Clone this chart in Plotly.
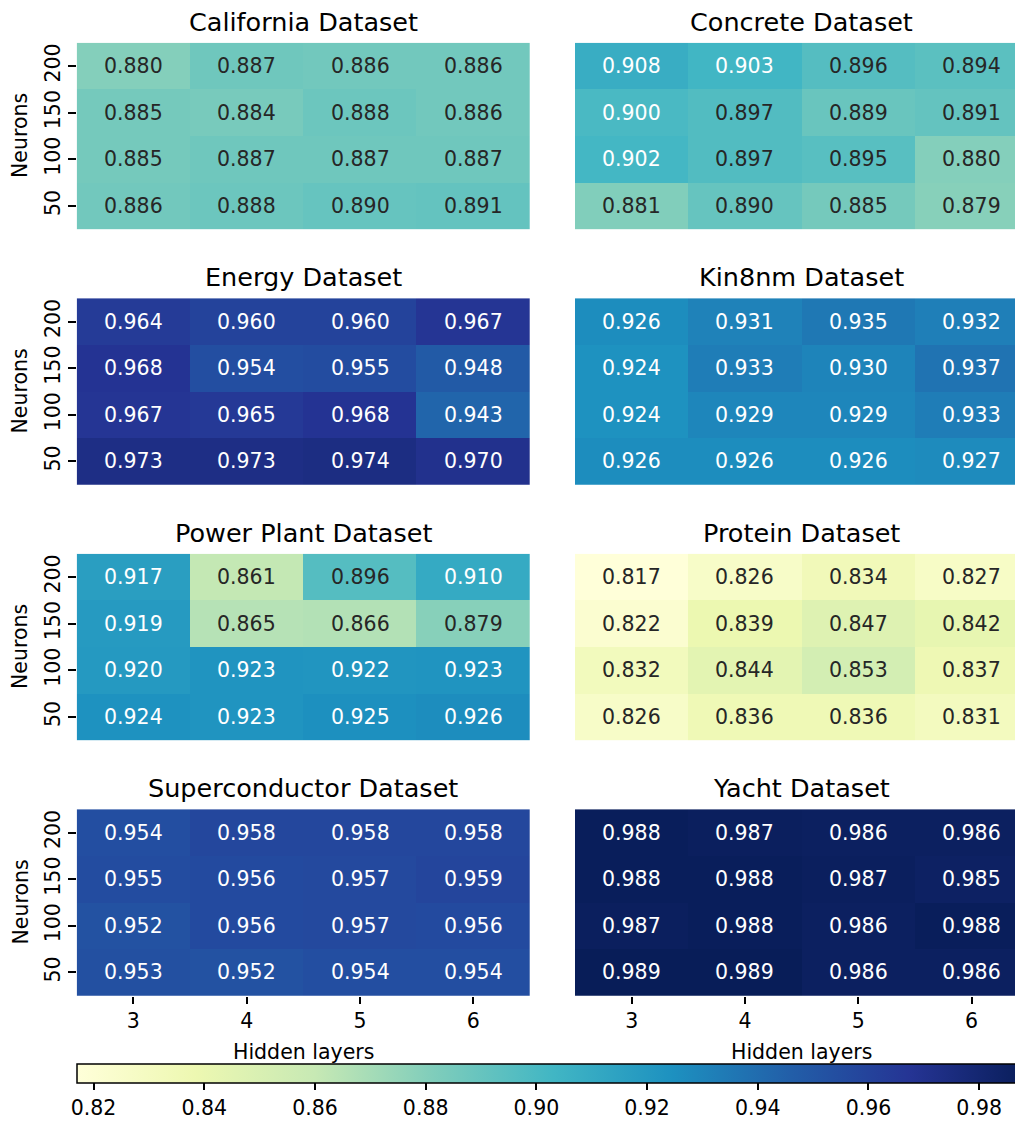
import plotly.graph_objects as go

# ---- data -------------------------------------------------------------
hidden_layers = [3, 4, 5, 6]
neurons = ["200", "150", "100", "50"]          # rows, top to bottom

titles = ["California Dataset", "Concrete Dataset",
          "Energy Dataset", "Kin8nm Dataset",
          "Power Plant Dataset", "Protein Dataset",
          "Superconductor Dataset", "Yacht Dataset"]

california = [[0.880, 0.887, 0.886, 0.886],
              [0.885, 0.884, 0.888, 0.886],
              [0.885, 0.887, 0.887, 0.887],
              [0.886, 0.888, 0.890, 0.891]]
concrete = [[0.908, 0.903, 0.896, 0.894],
            [0.900, 0.897, 0.889, 0.891],
            [0.902, 0.897, 0.895, 0.880],
            [0.881, 0.890, 0.885, 0.879]]
energy = [[0.964, 0.960, 0.960, 0.967],
          [0.968, 0.954, 0.955, 0.948],
          [0.967, 0.965, 0.968, 0.943],
          [0.973, 0.973, 0.974, 0.970]]
kin8nm = [[0.926, 0.931, 0.935, 0.932],
          [0.924, 0.933, 0.930, 0.937],
          [0.924, 0.929, 0.929, 0.933],
          [0.926, 0.926, 0.926, 0.927]]
power_plant = [[0.917, 0.861, 0.896, 0.910],
               [0.919, 0.865, 0.866, 0.879],
               [0.920, 0.923, 0.922, 0.923],
               [0.924, 0.923, 0.925, 0.926]]
protein = [[0.817, 0.826, 0.834, 0.827],
           [0.822, 0.839, 0.847, 0.842],
           [0.832, 0.844, 0.853, 0.837],
           [0.826, 0.836, 0.836, 0.831]]
superconductor = [[0.954, 0.958, 0.958, 0.958],
                  [0.955, 0.956, 0.957, 0.959],
                  [0.952, 0.956, 0.957, 0.956],
                  [0.953, 0.952, 0.954, 0.954]]
yacht = [[0.988, 0.987, 0.986, 0.986],
         [0.988, 0.988, 0.987, 0.985],
         [0.987, 0.988, 0.986, 0.988],
         [0.989, 0.989, 0.986, 0.986]]

datasets = [california, concrete, energy, kin8nm,
            power_plant, protein, superconductor, yacht]

colorbar_ticks = [0.82, 0.84, 0.86, 0.88, 0.90, 0.92, 0.94, 0.96, 0.98]

# ---- style / geometry ---------------------------------------------------
W, H = 1015, 1123
FONT = "DejaVu Sans"
VMIN = min(min(min(r) for r in d) for d in datasets)
VMAX = max(max(max(r) for r in d) for d in datasets)

YLGNBU = ["#ffffd9", "#edf8b1", "#c7e9b4", "#7fcdbb", "#41b6c4",
          "#1d91c0", "#225ea8", "#253494", "#081d58"]
colorscale = [[i / (len(YLGNBU) - 1), c] for i, c in enumerate(YLGNBU)]


def hex_rgb(h):
    return [int(h[i:i + 2], 16) / 255 for i in (1, 3, 5)]


def cmap(v):
    t = (v - VMIN) / (VMAX - VMIN)
    t = min(max(t, 0.0), 1.0)
    pos = t * (len(YLGNBU) - 1)
    i = min(int(pos), len(YLGNBU) - 2)
    f = pos - i
    a, b = hex_rgb(YLGNBU[i]), hex_rgb(YLGNBU[i + 1])
    return [a[k] + (b[k] - a[k]) * f for k in range(3)]


def text_color(v):
    # dark text on light cells, white text on dark cells
    rgb = cmap(v)
    lin = [c / 12.92 if c <= 0.03928 else ((c + 0.055) / 1.055) ** 2.4 for c in rgb]
    lum = 0.2126 * lin[0] + 0.7152 * lin[1] + 0.0722 * lin[2]
    return "#262626" if lum > 0.408 else "white"


col_left = [76.7, 575.0]         # pixel left edge of each heatmap column
hm_w = 453.3                     # full heatmap width in px
cell_w = hm_w / 4
row_top = [42.7, 298.2, 553.7, 809.2]
hm_h = 186.6
row_idx = list(range(len(neurons)))


def px_x(x):
    return x / W


def px_y(y):
    return 1 - y / H


fig = go.Figure()
annotations = []

for k, (name, z) in enumerate(zip(titles, datasets)):
    r, c = divmod(k, 2)
    ax = k + 1
    xn = "x" if ax == 1 else f"x{ax}"
    yn = "y" if ax == 1 else f"y{ax}"
    left = col_left[c]
    right = min(left + hm_w, W)
    top = row_top[r]
    bottom = top + hm_h
    x_hi = 2.5 + (right - left) / cell_w

    fig.add_trace(go.Heatmap(
        z=z, x=hidden_layers, y=row_idx, coloraxis="coloraxis",
        xaxis=xn, yaxis=yn, hoverinfo="skip"))

    fig.update_layout({
        f"xaxis{'' if ax == 1 else ax}": dict(
            domain=[px_x(left), px_x(right)], anchor=yn,
            range=[2.5, x_hi], tickvals=hidden_layers,
            showticklabels=(r == 3), ticks="outside" if r == 3 else "",
            ticklen=7, tickwidth=1.6, tickcolor="#000000",
            showgrid=False, zeroline=False, showline=False,
            tickfont=dict(family=FONT, size=20.5, color="black")),
        f"yaxis{'' if ax == 1 else ax}": dict(
            domain=[px_y(bottom), px_y(top)], anchor=xn,
            range=[len(neurons) - 0.5, -0.5],
            tickvals=row_idx, ticktext=neurons,
            showticklabels=(c == 0), ticks="outside" if c == 0 else "",
            ticklen=8, tickwidth=1.6, tickcolor="#000000", tickangle=-90,
            showgrid=False, zeroline=False, showline=False,
            tickfont=dict(family=FONT, size=20.5, color="black")),
    })

    # cell values
    for i, row in enumerate(z):
        for j, v in enumerate(row):
            annotations.append(dict(
                x=hidden_layers[j], y=row_idx[i], xref=xn, yref=yn,
                text=f"{v:.3f}", showarrow=False,
                font=dict(family=FONT, size=20.5, color=text_color(v))))

    # panel title, centred on the full heatmap width
    annotations.append(dict(
        x=px_x(left + hm_w / 2), y=px_y(top - 21), xref="paper", yref="paper",
        text=name, showarrow=False, xanchor="center", yanchor="middle",
        font=dict(family=FONT, size=25.5, color="black")))

    if c == 0:
        annotations.append(dict(
            x=px_x(20), y=px_y(top + hm_h / 2), xref="paper", yref="paper",
            text="Neurons", showarrow=False, textangle=-90,
            xanchor="center", yanchor="middle",
            font=dict(family=FONT, size=20.5, color="black")))
    if r == 3:
        annotations.append(dict(
            x=px_x(left + hm_w / 2), y=px_y(1052), xref="paper", yref="paper",
            text="Hidden layers", showarrow=False,
            xanchor="center", yanchor="middle",
            font=dict(family=FONT, size=20.5, color="black")))

cb_left, cb_top, cb_bottom = 77.0, 1064.3, 1083.3
cb_len = (VMAX - VMIN) / 0.02 * 110.7

fig.update_layout(
    width=W, height=H,
    margin=dict(l=0, r=0, t=0, b=0, pad=0, autoexpand=False),
    paper_bgcolor="white", plot_bgcolor="white",
    font=dict(family=FONT, color="black"),
    coloraxis=dict(
        cmin=VMIN, cmax=VMAX, colorscale=colorscale,
        colorbar=dict(
            orientation="h", x=px_x(cb_left), xanchor="left",
            y=px_y(cb_top), yanchor="top",
            lenmode="pixels", len=cb_len,
            thicknessmode="pixels", thickness=cb_bottom - cb_top,
            xpad=0, ypad=0,
            outlinecolor="black", outlinewidth=1.5,
            tickvals=colorbar_ticks, ticktext=[f"{t:.2f}" for t in colorbar_ticks],
            ticks="outside", ticklen=7, tickwidth=1.6, tickcolor="black",
            tickfont=dict(family=FONT, size=20.5, color="black"))),
    annotations=annotations,
)

fig.write_html("out.html")
